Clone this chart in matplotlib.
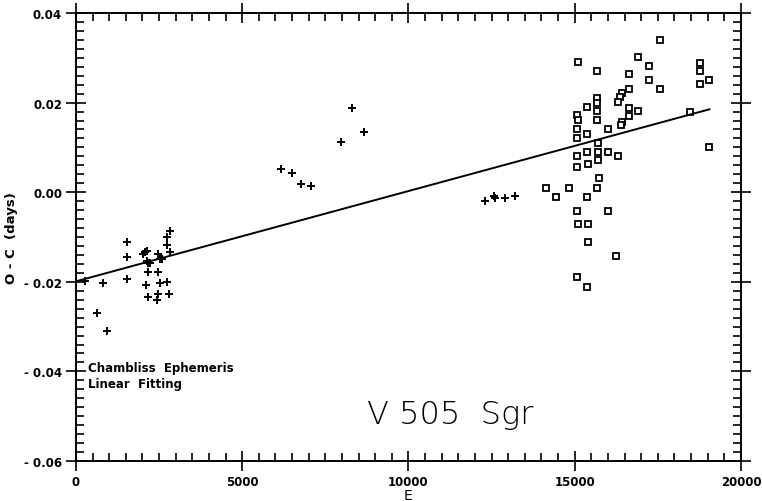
# O-C diagram for V505 Sgr
import numpy as np
import matplotlib.pyplot as plt
from matplotlib.ticker import MultipleLocator, FixedLocator, FixedFormatter

# ------------------------------
# DATA
# ------------------------------

# visual / early timings (plus signs)
E_plus = [270, 630, 810, 930,
          1520, 1520, 1520,
          2030, 2080, 2130, 2150, 2180, 2230, 2180, 2100, 2180,
          2460, 2530, 2580, 2460, 2530, 2460, 2450,
          2730, 2830, 2750, 2830, 2750, 2790,
          6170, 6490, 6770, 7070, 7970, 8300, 8660,
          12300, 12580, 12600, 12900, 13200]
oc_plus = [-0.0199, -0.0270, -0.0203, -0.0310,
           -0.0112, -0.0144, -0.0193,
           -0.0137, -0.0133, -0.0131, -0.0154, -0.0158, -0.0159, -0.0179, -0.0208, -0.0235,
           -0.0137, -0.0150, -0.0149, -0.0179, -0.0202, -0.0228, -0.0241,
           -0.0100, -0.0087, -0.0117, -0.0134, -0.0201, -0.0228,
           0.0051, 0.0043, 0.0019, 0.0013, 0.0111, 0.0188, 0.0134,
           -0.0019, -0.0008, -0.0013, -0.0012, -0.0008]

# recent timings (open squares)
E_sq = [17570, 15110, 16910, 17220, 18770, 18770, 15680, 16640, 17220, 18770,
        19050, 17570, 16630, 16420, 16360, 16310, 15660, 15680, 15380, 16640,
        15680, 16910, 15080, 15110, 16640, 15680, 16420, 16390, 15080, 15990,
        18470, 15360, 15080, 15710, 19050, 15080, 15360, 15710, 15990, 16310,
        15080, 15410, 15710, 15740, 14140, 14440, 14840, 15680, 15380, 15080,
        16010, 15110, 15390, 15390, 16230, 15080, 15380]
oc_sq = [0.0339, 0.0291, 0.0301, 0.0281, 0.0289, 0.0271, 0.0270, 0.0263, 0.0250, 0.0241,
         0.0250, 0.0230, 0.0230, 0.0222, 0.0213, 0.0202, 0.0210, 0.0199, 0.0190, 0.0189,
         0.0181, 0.0181, 0.0172, 0.0161, 0.0170, 0.0161, 0.0157, 0.0150, 0.0141, 0.0141,
         0.0179, 0.0129, 0.0120, 0.0109, 0.0101, 0.0080, 0.0090, 0.0090, 0.0090, 0.0080,
         0.0056, 0.0063, 0.0071, 0.0031, 0.0010, -0.0010, 0.0010, 0.0010, -0.0010, -0.0042,
         -0.0042, -0.0070, -0.0070, -0.0111, -0.0142, -0.0190, -0.0211]

# linear fit
fit_E = [0, 19050]
fit_intercept = -0.0199
fit_slope = 2.016e-6

y_ticks = [-0.06, -0.04, -0.02, 0.00, 0.02, 0.04]
y_labels = ['- 0.06', '- 0.04', '- 0.02', '0.00', '0.02', '0.04']
x_ticks = [0, 5000, 10000, 15000, 20000]

# ------------------------------
# PLOT
# ------------------------------

fig = plt.figure(figsize=(7.62, 5.02), dpi=100)
ax = fig.add_axes([0.0997, 0.0797, 0.8727, 0.8924])

ax.plot(E_plus, oc_plus, linestyle='none', marker='+', color='black',
        markersize=6, markeredgewidth=1.4)
ax.plot(E_sq, oc_sq, linestyle='none', marker='s', markerfacecolor='white',
        markeredgecolor='black', markersize=4.6, markeredgewidth=1.3)

fit_x = np.array(fit_E)
ax.plot(fit_x, fit_intercept + fit_slope * fit_x, color='black', linewidth=1.4)

ax.set_xlim(0, 20000)
ax.set_ylim(-0.06, 0.04)

ax.xaxis.set_major_locator(FixedLocator(x_ticks))
ax.xaxis.set_minor_locator(MultipleLocator(500))
ax.yaxis.set_major_locator(FixedLocator(y_ticks))
ax.yaxis.set_major_formatter(FixedFormatter(y_labels))
ax.yaxis.set_minor_locator(MultipleLocator(0.002))

ax.tick_params(which='both', top=True, right=True, width=1.2, color='black')
ax.tick_params(which='major', direction='inout', length=14, pad=3)
ax.tick_params(which='minor', direction='in', length=6)
ax.tick_params(axis='both', which='major', labelsize=8.5)
for lab in ax.get_xticklabels() + ax.get_yticklabels():
    lab.set_fontweight('bold')

for sp in ax.spines.values():
    sp.set_linewidth(1.4)

ax.set_xlabel('E', fontsize=10, labelpad=0)
ax.set_ylabel('O - C  (days)', fontsize=9.5, fontweight='bold', labelpad=4)

ax.text(0.018, 0.19, 'Chambliss  Ephemeris\nLinear  Fitting', transform=ax.transAxes,
        fontsize=8.5, fontweight='bold', va='center', ha='left', linespacing=1.3)
ax.text(0.437, 0.105, 'V 505  Sgr', transform=ax.transAxes,
        fontsize=23, fontweight='light', va='center', ha='left')

fig.savefig('out.png', dpi=100)
